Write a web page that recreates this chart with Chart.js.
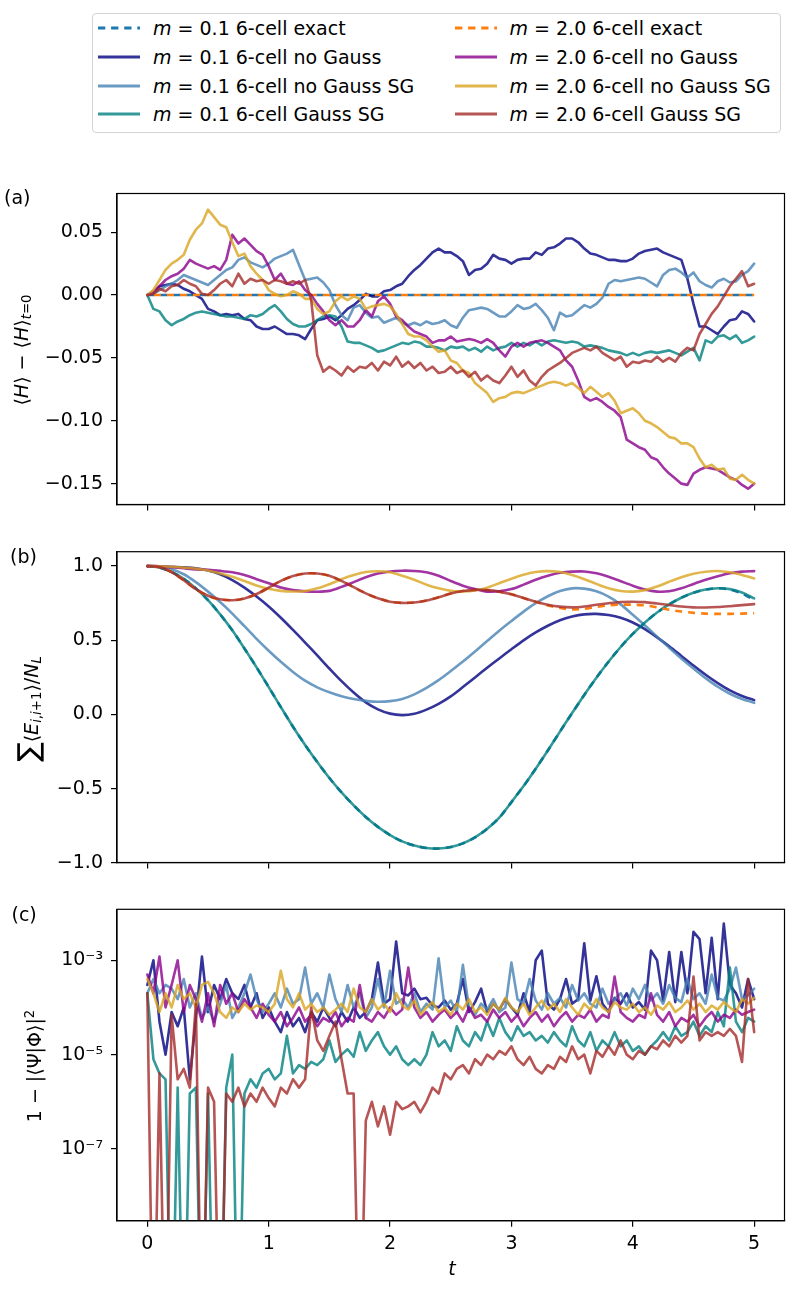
<!DOCTYPE html>
<html>
<head>
<meta charset="utf-8">
<script src="https://cdn.jsdelivr.net/npm/chart.js@4.4.1/dist/chart.umd.min.js"></script>
<style>
body { margin: 0; background: #fff; font-family: 'DejaVu Sans', sans-serif; }
#page { position: relative; width: 789px; height: 1291px; overflow: hidden; background: #fff; }
canvas { position: absolute; left: 0; }
.txt { position: absolute; font-size: 19px; color: #000; white-space: nowrap; line-height: 1; z-index: 2; }
.ylab { transform: translate(-50%, -50%) rotate(-90deg); }
.txt sub { font-size: 0.7em; vertical-align: -0.3em; line-height: 0; }
.txt sup { font-size: 0.7em; vertical-align: 0.5em; line-height: 0; }
#legend { position: absolute; left: 91.5px; top: 13px; width: 689px; height: 120px; border: 1px solid #d4d4d4; border-radius: 4px; box-sizing: border-box; z-index: 1; }
.item { position: absolute; height: 20px; font-size: 19px; line-height: 20px; white-space: nowrap; z-index: 2; }
.item svg { position: absolute; left: 0; top: 0; }
.item span { position: absolute; left: 55px; top: 0; }
</style>
</head>
<body>
<div id="page">
  <div id="legend"></div>
  <div id="legendItems"></div>

  <canvas id="chartA"></canvas>
  <canvas id="chartB"></canvas>
  <canvas id="chartC"></canvas>

  <div class="txt" style="left:4px;top:188px">(a)</div>
  <div class="txt" style="left:10px;top:547px">(b)</div>
  <div class="txt" style="left:11.5px;top:905px">(c)</div>

  <div class="txt ylab" style="left:20.5px;top:350px">⟨<i>H</i>⟩ − ⟨<i>H</i>⟩<sub><i>t</i>=0</sub></div>
  <div class="txt ylab" style="left:28px;top:709px"><span style="font-size:29px">∑</span>⟨<i>E</i><sub><i>i</i>,<i>i</i>+1</sub>⟩/<i>N</i><sub><i>L</i></sub></div>
  <div class="txt ylab" style="left:34px;top:1066px">1 − |⟨Ψ|Φ⟩|<sup>2</sup></div>
  <div class="txt" style="left:452px;top:1268px;transform:translate(-50%,-50%)"><i>t</i></div>
</div>

<script>
// time grids
const T_FINE = [0,0.05,0.1,0.15,0.2,0.25,0.3,0.35,0.4,0.45,0.5,0.55,0.6,0.65,0.7,0.75,0.8,0.85,0.9,0.95,
  1,1.05,1.1,1.15,1.2,1.25,1.3,1.35,1.4,1.45,1.5,1.55,1.6,1.65,1.7,1.75,1.8,1.85,1.9,1.95,
  2,2.05,2.1,2.15,2.2,2.25,2.3,2.35,2.4,2.45,2.5,2.55,2.6,2.65,2.7,2.75,2.8,2.85,2.9,2.95,
  3,3.05,3.1,3.15,3.2,3.25,3.3,3.35,3.4,3.45,3.5,3.55,3.6,3.65,3.7,3.75,3.8,3.85,3.9,3.95,
  4,4.05,4.1,4.15,4.2,4.25,4.3,4.35,4.4,4.45,4.5,4.55,4.6,4.65,4.7,4.75,4.8,4.85,4.9,4.95,5];
const T_COARSE = [0,0.1,0.2,0.3,0.4,0.5,0.6,0.7,0.8,0.9,1,1.1,1.2,1.3,1.4,1.5,1.6,1.7,1.8,1.9,
  2,2.1,2.2,2.3,2.4,2.5,2.6,2.7,2.8,2.9,3,3.1,3.2,3.3,3.4,3.5,3.6,3.7,3.8,3.9,
  4,4.1,4.2,4.3,4.4,4.5,4.6,4.7,4.8,4.9,5];
const T_ENDS = [0, 5];

const X_TICKS = [0, 1, 2, 3, 4, 5];
const A_TICKS = [-0.15, -0.10, -0.05, 0, 0.05];
const B_TICKS = [-1, -0.5, 0, 0.5, 1];
const C_TICKS = [1e-7, 1e-5, 1e-3];
const C_LABELS = {'-3': '10⁻³', '-5': '10⁻⁵', '-7': '10⁻⁷'};

// panel (a): <H> - <H>_{t=0}
const energyExact01 = [0, 0];
const energyExact20 = [0, 0];
const energyNoGauss01 = [0,0.001,0.007,0.008,0.009,0.008,0.005,0.003,0.000,-0.003,
  -0.011,-0.013,-0.016,-0.015,-0.016,-0.015,-0.019,-0.020,-0.025,-0.027,
  -0.027,-0.025,-0.028,-0.031,-0.031,-0.032,-0.035,-0.027,-0.020,-0.019,
  -0.017,-0.020,-0.016,-0.011,-0.008,-0.004,0.001,-0.001,-0.001,0.003,
  0.004,0.007,0.009,0.015,0.020,0.024,0.029,0.034,0.037,0.034,
  0.034,0.031,0.027,0.016,0.020,0.021,0.025,0.032,0.029,0.028,
  0.025,0.028,0.029,0.029,0.034,0.032,0.037,0.038,0.041,0.045,
  0.045,0.042,0.037,0.033,0.032,0.030,0.028,0.028,0.027,0.027,
  0.029,0.033,0.035,0.036,0.037,0.034,0.032,0.030,0.028,0.013,
  -0.007,-0.025,-0.025,-0.028,-0.031,-0.025,-0.020,-0.019,-0.013,-0.015,-0.021];
const energyNoGaussSG01 = [0,0.001,0.004,0.007,0.009,0.012,0.016,0.014,0.012,0.010,
  0.008,0.012,0.016,0.020,0.022,0.028,0.030,0.026,0.024,0.022,
  0.025,0.029,0.031,0.033,0.036,0.024,0.012,0.013,0.014,0.010,
  0.004,-0.008,-0.016,-0.020,-0.010,-0.008,-0.014,-0.018,-0.017,-0.022,
  -0.020,-0.018,-0.022,-0.024,-0.022,-0.024,-0.021,-0.023,-0.022,-0.020,
  -0.024,-0.026,-0.018,-0.012,-0.011,-0.010,-0.011,-0.014,-0.017,-0.017,
  -0.013,-0.008,-0.011,-0.010,-0.007,-0.012,-0.018,-0.028,-0.014,-0.017,
  -0.016,-0.012,-0.008,-0.010,-0.007,-0.002,0.009,0.012,0.011,0.012,
  0.013,0.014,0.013,0.010,0.007,0.016,0.020,0.021,0.018,0.014,
  0.018,0.011,0.008,0.006,0.011,0.013,0.010,0.011,0.016,0.019,0.025];
const energyGaussSG01 = [0,-0.011,-0.013,-0.020,-0.024,-0.021,-0.019,-0.016,-0.014,-0.013,
  -0.014,-0.015,-0.016,-0.017,-0.017,-0.018,-0.019,-0.016,-0.017,-0.015,
  -0.011,-0.008,-0.013,-0.019,-0.023,-0.025,-0.025,-0.023,-0.020,-0.017,
  -0.016,-0.017,-0.025,-0.037,-0.038,-0.038,-0.040,-0.042,-0.045,-0.044,
  -0.042,-0.040,-0.038,-0.039,-0.037,-0.038,-0.041,-0.041,-0.042,-0.044,
  -0.041,-0.042,-0.041,-0.044,-0.042,-0.045,-0.041,-0.044,-0.042,-0.041,
  -0.038,-0.041,-0.038,-0.040,-0.037,-0.040,-0.037,-0.036,-0.037,-0.038,
  -0.037,-0.038,-0.041,-0.040,-0.041,-0.042,-0.044,-0.045,-0.046,-0.048,
  -0.046,-0.048,-0.046,-0.045,-0.046,-0.045,-0.044,-0.046,-0.048,-0.045,
  -0.042,-0.052,-0.036,-0.038,-0.033,-0.032,-0.035,-0.032,-0.038,-0.036,-0.033];
const energyNoGauss20 = [0,0.003,0.007,0.012,0.015,0.017,0.021,0.028,0.025,0.023,
  0.021,0.023,0.020,0.028,0.048,0.041,0.045,0.040,0.035,0.032,
  0.023,0.012,0.017,0.009,0.008,0.011,0.004,0.000,-0.007,-0.013,
  -0.020,-0.024,-0.020,-0.025,-0.025,-0.020,-0.012,-0.017,-0.005,-0.001,
  -0.007,-0.017,-0.020,-0.025,-0.029,-0.031,-0.033,-0.038,-0.036,-0.036,
  -0.033,-0.037,-0.036,-0.035,-0.036,-0.038,-0.035,-0.038,-0.044,-0.049,
  -0.041,-0.038,-0.041,-0.038,-0.037,-0.036,-0.038,-0.041,-0.044,-0.052,
  -0.057,-0.068,-0.081,-0.084,-0.082,-0.085,-0.089,-0.092,-0.097,-0.115,
  -0.118,-0.121,-0.123,-0.129,-0.131,-0.137,-0.142,-0.146,-0.150,-0.151,
  -0.142,-0.139,-0.137,-0.138,-0.139,-0.142,-0.145,-0.147,-0.151,-0.154,-0.150];
const energyNoGaussSG20 = [0,0.004,0.012,0.020,0.025,0.028,0.032,0.044,0.052,0.057,
  0.068,0.062,0.056,0.054,0.042,0.031,0.033,0.023,0.017,0.012,
  0.004,0.001,-0.001,0.000,0.003,0.001,-0.003,-0.003,-0.011,-0.015,
  -0.013,-0.005,-0.001,-0.004,-0.001,-0.003,-0.011,-0.009,-0.008,-0.007,
  -0.009,-0.015,-0.023,-0.031,-0.033,-0.033,-0.036,-0.041,-0.045,-0.044,
  -0.052,-0.054,-0.060,-0.062,-0.070,-0.074,-0.078,-0.085,-0.082,-0.081,
  -0.078,-0.077,-0.078,-0.076,-0.074,-0.072,-0.070,-0.069,-0.070,-0.072,
  -0.070,-0.074,-0.078,-0.073,-0.077,-0.081,-0.078,-0.084,-0.094,-0.092,
  -0.090,-0.094,-0.100,-0.102,-0.105,-0.109,-0.113,-0.114,-0.118,-0.118,
  -0.121,-0.130,-0.137,-0.135,-0.139,-0.138,-0.146,-0.147,-0.143,-0.147,-0.150];
const energyGaussSG20 = [0,0.001,0.005,0.003,0.007,0.008,0.012,0.009,0.007,0.001,
  0.000,0.004,0.009,0.012,0.007,0.017,0.009,0.013,0.011,0.012,
  0.009,0.012,0.011,0.009,0.011,0.009,0.012,-0.004,-0.048,-0.061,
  -0.057,-0.060,-0.064,-0.057,-0.061,-0.057,-0.058,-0.054,-0.060,-0.053,
  -0.056,-0.049,-0.057,-0.053,-0.058,-0.054,-0.060,-0.057,-0.062,-0.061,
  -0.057,-0.062,-0.060,-0.065,-0.061,-0.068,-0.064,-0.068,-0.070,-0.064,
  -0.057,-0.065,-0.060,-0.068,-0.072,-0.065,-0.060,-0.057,-0.054,-0.050,
  -0.046,-0.044,-0.042,-0.044,-0.041,-0.046,-0.049,-0.052,-0.049,-0.057,
  -0.053,-0.054,-0.052,-0.053,-0.049,-0.053,-0.050,-0.053,-0.046,-0.042,
  -0.044,-0.031,-0.023,-0.015,-0.009,-0.001,0.007,0.013,0.019,0.007,0.009];

// panel (b): sum <E_{i,i+1}> / N_L
const sumExact01 = [1.000,0.990,0.960,0.915,0.850,0.770,0.675,0.568,0.445,0.318,
  0.185,0.050,-0.082,-0.205,-0.320,-0.428,-0.525,-0.612,-0.690,-0.757,
  -0.812,-0.855,-0.883,-0.899,-0.903,-0.893,-0.868,-0.828,-0.770,-0.695,
  -0.590,-0.482,-0.365,-0.242,-0.115,0.010,0.132,0.248,0.356,0.455,
  0.543,0.620,0.687,0.742,0.787,0.820,0.842,0.851,0.842,0.815,0.770];
const sumNoGauss01 = [1.000,0.999,0.996,0.992,0.985,0.970,0.945,0.906,0.855,0.795,
  0.728,0.652,0.570,0.485,0.398,0.310,0.225,0.148,0.082,0.035,
  0.006,-0.004,0.005,0.033,0.072,0.122,0.185,0.250,0.315,0.378,
  0.440,0.500,0.553,0.598,0.635,0.660,0.675,0.678,0.670,0.652,
  0.620,0.575,0.520,0.460,0.395,0.330,0.268,0.212,0.163,0.125,0.097];
const sumNoGaussSG01 = [1.000,0.995,0.978,0.945,0.892,0.828,0.758,0.680,0.595,0.510,
  0.430,0.355,0.287,0.228,0.183,0.150,0.123,0.104,0.092,0.086,
  0.090,0.105,0.136,0.180,0.232,0.293,0.357,0.425,0.495,0.565,
  0.630,0.693,0.750,0.797,0.832,0.850,0.848,0.830,0.795,0.742,
  0.672,0.600,0.525,0.450,0.378,0.310,0.245,0.187,0.140,0.105,0.079];
const sumGaussSG01 = [1.000,0.990,0.960,0.915,0.850,0.770,0.675,0.568,0.445,0.318,
  0.185,0.050,-0.082,-0.205,-0.320,-0.428,-0.525,-0.612,-0.690,-0.757,
  -0.812,-0.855,-0.883,-0.899,-0.903,-0.893,-0.868,-0.828,-0.770,-0.695,
  -0.590,-0.482,-0.365,-0.242,-0.115,0.010,0.132,0.248,0.356,0.455,
  0.543,0.620,0.687,0.742,0.787,0.820,0.842,0.851,0.845,0.822,0.782];
const sumExact20 = [1.000,0.993,0.960,0.905,0.845,0.800,0.776,0.770,0.782,0.812,
  0.855,0.900,0.933,0.950,0.950,0.935,0.900,0.858,0.816,0.783,
  0.760,0.752,0.755,0.768,0.790,0.815,0.832,0.840,0.838,0.828,
  0.810,0.785,0.760,0.735,0.718,0.708,0.712,0.725,0.735,0.740,
  0.740,0.735,0.722,0.706,0.694,0.685,0.680,0.678,0.678,0.680,0.683];
const sumNoGauss20 = [1.000,0.998,0.992,0.985,0.978,0.975,0.968,0.958,0.940,0.912,
  0.884,0.855,0.838,0.830,0.827,0.833,0.860,0.892,0.925,0.950,
  0.964,0.969,0.967,0.958,0.935,0.900,0.868,0.845,0.828,0.830,
  0.845,0.875,0.908,0.935,0.955,0.963,0.964,0.952,0.928,0.898,
  0.868,0.842,0.828,0.830,0.850,0.880,0.908,0.932,0.952,0.963,0.966];
const sumNoGaussSG20 = [1.000,0.999,0.996,0.990,0.983,0.970,0.950,0.928,0.900,0.870,
  0.847,0.833,0.829,0.832,0.850,0.878,0.912,0.940,0.960,0.965,
  0.958,0.935,0.908,0.875,0.850,0.833,0.829,0.835,0.855,0.885,
  0.915,0.942,0.960,0.966,0.960,0.940,0.912,0.880,0.850,0.832,
  0.828,0.838,0.862,0.895,0.925,0.948,0.962,0.967,0.958,0.940,0.917];
const sumGaussSG20 = [1.000,0.993,0.960,0.905,0.845,0.800,0.776,0.770,0.782,0.812,
  0.855,0.900,0.933,0.950,0.950,0.935,0.900,0.858,0.816,0.783,
  0.760,0.752,0.755,0.768,0.790,0.815,0.832,0.840,0.838,0.828,
  0.810,0.785,0.760,0.740,0.727,0.722,0.728,0.740,0.750,0.758,
  0.760,0.757,0.748,0.738,0.728,0.722,0.721,0.724,0.730,0.737,0.744];

// panel (c): 1 - |<Psi|Phi>|^2 (1e-12 = fell off the bottom of the plot)
const fidNoGauss01 = [3e-4,1e-3,5e-5,1e-5,8e-5,4e-5,1e-4,3e-6,6e-5,1.2e-3,
  8e-5,3e-4,1.5e-4,4e-4,2e-4,1.5e-4,3e-4,1e-4,2e-4,6e-5,
  1e-4,5e-5,3e-5,8e-5,4e-5,6e-5,3e-5,8e-5,5e-5,1e-4,
  6e-5,4e-5,8e-5,5e-5,1e-4,6e-5,8e-5,1.5e-4,9e-4,1.2e-4,
  1.5e-4,2.5e-3,2e-4,1.8e-4,2.5e-4,1.5e-4,1.6e-4,1.1e-4,1e-4,1.4e-4,
  9e-5,1.2e-4,4e-4,8e-5,1.3e-4,2.5e-4,8e-5,1.2e-4,9e-5,1.5e-4,
  1e-4,7e-5,2e-4,8e-5,1e-3,1.6e-3,1.2e-4,9e-5,1.5e-4,4e-4,
  1.2e-4,1.5e-4,2.3e-3,1.4e-4,4.6e-4,1.2e-4,8e-5,1.6e-4,1.2e-4,2e-4,
  1e-4,1.3e-4,9e-5,1.6e-3,1e-3,1.4e-4,1.5e-3,1.3e-4,1.5e-3,2e-4,
  4e-3,2.8e-3,2e-4,3e-3,1.5e-4,6e-3,3e-4,2e-4,1e-4,4e-4,1.5e-4];
const fidNoGaussSG01 = [2e-4,4e-4,2e-4,3e-4,2.5e-4,1.5e-4,4e-4,1e-4,2e-4,6e-5,
  1e-4,5e-5,1.2e-4,3e-4,6e-5,1e-4,2e-4,5e-4,1.5e-4,8e-5,
  1.2e-4,2e-4,1e-4,2.5e-4,1.2e-4,1.5e-4,7e-4,1.2e-4,2e-4,1e-4,
  5e-4,1.5e-4,8e-5,3e-4,1e-4,2e-4,6e-5,1e-4,4e-4,1e-4,
  6e-4,1.2e-4,1.5e-4,1e-4,2e-4,8e-5,1.2e-4,9e-5,1.1e-3,1e-4,
  1.4e-4,8e-5,8e-4,1e-4,7e-5,1.2e-4,9e-5,1.5e-4,8e-5,1e-4,
  9e-4,1.5e-4,1.2e-4,4e-4,1.4e-4,9e-5,2e-4,1.2e-4,1.6e-4,1e-4,
  3e-4,1.4e-4,2e-4,1.2e-4,1e-4,2.5e-4,1.2e-4,1.5e-4,2e-4,1.1e-4,
  2.5e-4,1.5e-4,3e-4,1.4e-4,2e-4,1.2e-4,3e-4,1.6e-4,1.3e-4,4e-4,
  1.5e-4,2e-4,1.2e-4,5e-4,1.6e-4,1.4e-4,2.5e-4,7e-4,1.5e-4,1.8e-4,2.5e-4];
const fidGaussSG01 = [2e-4,8e-6,4e-6,3e-6,1e-12,2e-6,1e-12,1.5e-6,2e-6,1e-12,
  1.5e-6,1e-12,1e-12,2e-6,1e-5,1e-12,1.5e-6,3e-6,2e-6,4e-6,
  5e-6,3e-6,4e-6,2.5e-5,4e-6,6e-6,5e-6,7e-6,6e-6,8e-6,
  2e-5,7e-6,1e-5,1.3e-5,9e-6,3e-5,1.2e-5,2e-5,3e-5,1.5e-5,
  1e-5,1.5e-5,8e-6,6e-6,8e-6,6e-6,1e-5,3e-5,1.5e-5,2e-5,
  1.2e-5,4e-5,2e-5,1.5e-5,3e-5,2e-5,5e-5,2.5e-5,6e-5,3e-5,
  2e-5,4e-5,2.5e-5,3e-5,2e-5,2.5e-5,1.8e-5,3e-5,2e-5,1.5e-5,
  4e-5,2e-5,1.5e-5,3e-5,1.2e-5,2e-5,1.5e-5,3e-5,1.5e-5,2e-5,
  1.2e-5,1.5e-5,1e-5,1.5e-5,2e-5,3e-5,2e-5,4e-5,2.5e-5,3e-5,
  5e-5,2.5e-5,4e-5,3e-5,8e-5,4e-5,7e-4,5e-5,3e-5,6e-5,5e-5];
const fidNoGauss20 = [5e-4,2e-4,1.2e-3,1e-4,3e-4,1e-3,8e-5,3e-4,1.5e-4,5e-5,
  2e-4,4e-5,3e-4,1.2e-4,2e-4,8e-5,1.5e-4,1e-4,6e-5,1.2e-4,
  7e-5,5e-5,8e-5,4e-5,6e-5,1e-4,5e-5,7e-5,4e-5,6e-5,
  5e-5,8e-5,4e-5,6e-5,5e-5,3e-4,6e-5,5e-5,8e-5,6e-5,
  1e-4,7e-5,9e-5,7e-4,1e-4,6e-5,8e-5,5e-5,7e-5,9e-5,
  6e-5,8e-5,5e-5,1e-4,6e-5,7e-5,5e-5,9e-5,6e-5,8e-5,
  5e-5,7e-5,4e-5,6e-5,8e-5,5e-5,7e-5,4e-5,6e-5,8e-5,
  5e-5,7e-5,6e-5,9e-5,5e-5,7e-5,6e-5,4.5e-4,8e-5,6e-5,
  5e-5,7e-5,6e-5,2e-4,7e-5,5e-5,8e-5,4e-5,6e-5,5e-5,
  7e-5,4e-5,6e-5,8e-5,5e-5,7e-5,6e-5,9e-5,7e-5,8e-5,9e-5];
const fidNoGaussSG20 = [4e-4,2e-4,8e-5,2e-4,1e-4,3e-4,1.5e-4,2e-4,1e-4,3e-4,
  3.5e-4,2e-4,8e-5,6e-5,1e-4,8e-5,1.2e-4,9e-5,1.1e-4,1e-4,
  8e-5,1.2e-4,6e-4,1.5e-4,1e-4,2e-4,9e-5,1.2e-4,8e-5,1e-4,
  7e-5,9e-5,1.2e-4,8e-5,2.5e-4,1e-4,8e-5,1.5e-4,9e-5,1.2e-4,
  8e-5,2e-4,1.1e-4,9e-5,1.4e-4,7e-5,1e-4,1.3e-4,8e-5,1e-4,
  7e-5,1.2e-4,9e-5,1.5e-4,8e-5,1e-4,7e-5,1.2e-4,9e-5,1.6e-4,
  1e-4,8e-5,1.2e-4,7e-5,1e-4,1.4e-4,9e-5,1.2e-4,8e-5,1.5e-4,
  1e-4,7e-5,1.2e-4,9e-5,1.5e-4,1e-4,8e-5,1.3e-4,1e-4,9e-5,
  1.2e-4,8e-5,1e-4,7e-5,1.1e-4,9e-5,1.3e-4,8e-5,1e-4,1.4e-4,
  9e-5,1.2e-4,8e-5,1.1e-4,9e-5,1.3e-4,1e-4,8e-5,1.5e-4,1.2e-4,1.6e-4];
const fidGaussSG20 = [2e-4,1e-12,4e-6,1e-12,7e-5,3e-6,5e-6,2e-6,1.2e-4,1e-12,
  2e-6,1e-6,1e-12,1.5e-6,1e-6,2e-6,8e-7,1.5e-6,1e-6,2e-6,
  1.2e-6,8e-7,2e-6,1.5e-6,3e-6,2e-6,3e-6,1e-4,2e-5,1.2e-5,
  2.5e-5,5e-5,8e-6,1.5e-6,1.5e-6,1e-12,4e-7,1e-6,3e-7,8e-7,
  2e-7,1e-6,7e-7,8e-7,1e-6,6e-7,1e-6,2e-6,1.5e-6,4e-6,
  3e-6,5e-6,6e-6,4e-6,8e-6,6e-6,1e-5,8e-6,1.2e-5,1e-5,
  1.5e-5,8e-6,6e-6,9e-6,5e-6,4e-6,6e-6,5e-6,9e-6,7e-6,
  1.5e-5,8e-6,1e-5,4e-6,1.2e-5,9e-6,1.5e-5,1e-5,2e-5,1e-5,
  8e-6,1.2e-5,1e-5,1.5e-5,1.3e-5,2e-5,1.5e-5,2.5e-5,1.8e-5,2.5e-5,
  4.5e-4,2e-5,3e-5,2.5e-5,3e-5,2.5e-5,3.5e-5,2.5e-5,7e-6,4e-4,3e-5];

const FONT = "'DejaVu Sans', sans-serif";

const STYLE = {
  exact01:   { color: '#1f77b4', dash: [7, 6] },
  noG01:     { color: 'rgba(0,0,128,0.8)' },
  noGSG01:   { color: 'rgba(70,130,180,0.8)' },
  gSG01:     { color: 'rgba(0,128,128,0.8)' },
  exact20:   { color: '#ff7f0e', dash: [7, 6], offset: 6.5 },
  noG20:     { color: 'rgba(139,0,139,0.8)' },
  noGSG20:   { color: 'rgba(218,165,32,0.8)' },
  gSG20:     { color: 'rgba(165,42,42,0.8)' }
};

// legend, column-major like matplotlib ncol=2
const LEGEND = [
  ['exact01', '<i>m</i> = 0.1 6-cell exact'],
  ['noG01', '<i>m</i> = 0.1 6-cell no Gauss'],
  ['noGSG01', '<i>m</i> = 0.1 6-cell no Gauss SG'],
  ['gSG01', '<i>m</i> = 0.1 6-cell Gauss SG'],
  ['exact20', '<i>m</i> = 2.0 6-cell exact'],
  ['noG20', '<i>m</i> = 2.0 6-cell no Gauss'],
  ['noGSG20', '<i>m</i> = 2.0 6-cell no Gauss SG'],
  ['gSG20', '<i>m</i> = 2.0 6-cell Gauss SG']
];
const LEG_ROWS = [28.3, 57.3, 86, 114.3];
const LEG_COLS = [98, 454.5];

let html = '';
LEGEND.forEach(function (e, i) {
  const s = STYLE[e[0]];
  const col = LEG_COLS[Math.floor(i / 4)], row = LEG_ROWS[i % 4];
  const dash = s.dash ? ' stroke-dasharray="7.3,5.8"' : '';
  html += '<div class="item" style="left:' + col + 'px;top:' + (row - 10) + 'px">' +
    '<svg width="42" height="20"><line x1="0" y1="10" x2="42" y2="10" stroke="' + s.color +
    '" stroke-width="3"' + dash + '/></svg><span>' + e[1] + '</span></div>';
});
document.getElementById('legendItems').innerHTML = html;

function series(ts, ys, key, idx, smooth) {
  const s = STYLE[key];
  return {
    data: ts.map(function (t, i) { return { x: t, y: ys[i] }; }),
    borderColor: s.color,
    borderWidth: 2.6,
    borderDash: s.dash || [],
    borderDashOffset: s.offset || 0,
    borderJoinStyle: 'round',
    borderCapStyle: s.dash ? 'butt' : 'round',
    pointRadius: 0,
    fill: false,
    tension: smooth ? 0.3 : 0,
    order: 20 - idx
  };
}

function fmt(v, d) {
  return (v < 0 ? '−' : '') + Math.abs(v).toFixed(d);
}

const frame = {
  id: 'frame',
  afterDatasetsDraw: function (chart) {
    const a = chart.chartArea, ctx = chart.ctx;
    ctx.save();
    ctx.strokeStyle = '#000';
    ctx.lineWidth = 1.2;
    ctx.strokeRect(a.left, a.top, a.right - a.left, a.bottom - a.top);
    ctx.restore();
  }
};

function xAxis(height, showLabels) {
  return {
    type: 'linear', min: -0.25, max: 5.25,
    afterBuildTicks: function (s) { s.ticks = X_TICKS.map(function (v) { return { value: v }; }); },
    ticks: { autoSkip: false, maxRotation: 0, padding: 6, color: '#000', font: { family: FONT, size: 19 },
      callback: function (v) { return showLabels ? String(v) : ''; } },
    grid: { drawOnChartArea: false, drawTicks: true, tickLength: 6, color: '#000', lineWidth: 1.2 },
    border: { display: true, color: '#000', width: 1.2 },
    afterFit: function (s) { s.height = height; s.paddingLeft = 0; s.paddingRight = 0; }
  };
}

function yAxis(type, min, max, ticks, label) {
  return {
    type: type, min: min, max: max,
    afterBuildTicks: function (s) { s.ticks = ticks.map(function (v) { return { value: v }; }); },
    ticks: { autoSkip: false, padding: 8, color: '#000', font: { family: FONT, size: 19 }, callback: label },
    grid: { drawOnChartArea: false, drawTicks: true, tickLength: 6, color: '#000', lineWidth: 1.2 },
    border: { display: true, color: '#000', width: 1.2 },
    afterFit: function (s) { s.width = 117; s.paddingTop = 0; s.paddingBottom = 0; }
  };
}

function panel(id, top, height, padTop, xHeight, showX, datasets, y) {
  const cv = document.getElementById(id);
  cv.style.top = top + 'px';
  cv.width = 789;
  cv.height = height;
  new Chart(cv, {
    type: 'line',
    data: { datasets: datasets },
    options: {
      responsive: false, animation: false, events: [],
      layout: { padding: { top: padTop, right: 4.5, left: 0, bottom: 0 } },
      plugins: { legend: { display: false }, tooltip: { enabled: false } },
      scales: { x: xAxis(xHeight, showX), y: y }
    },
    plugins: [frame]
  });
}

panel('chartA', 184, 340, 9.5, 19.5, false, [
  series(T_ENDS, energyExact01, 'exact01', 0),
  series(T_FINE, energyNoGauss01, 'noG01', 1),
  series(T_FINE, energyNoGaussSG01, 'noGSG01', 2),
  series(T_FINE, energyGaussSG01, 'gSG01', 3),
  series(T_ENDS, energyExact20, 'exact20', 4),
  series(T_FINE, energyNoGauss20, 'noG20', 5),
  series(T_FINE, energyNoGaussSG20, 'noGSG20', 6),
  series(T_FINE, energyGaussSG20, 'gSG20', 7)
], yAxis('linear', -0.1666, 0.0808, A_TICKS, function (v) { return fmt(v, 2); }));

panel('chartB', 542, 340, 9.7, 19.5, false, [
  series(T_COARSE, sumExact01, 'exact01', 0, true),
  series(T_COARSE, sumNoGauss01, 'noG01', 1, true),
  series(T_COARSE, sumNoGaussSG01, 'noGSG01', 2, true),
  series(T_COARSE, sumGaussSG01, 'gSG01', 3, true),
  series(T_COARSE, sumExact20, 'exact20', 4, true),
  series(T_COARSE, sumNoGauss20, 'noG20', 5, true),
  series(T_COARSE, sumNoGaussSG20, 'noGSG20', 6, true),
  series(T_COARSE, sumGaussSG20, 'gSG20', 7, true)
], yAxis('linear', -0.997, 1.097, B_TICKS, function (v) { return fmt(v, 1); }));

panel('chartC', 899, 392, 10.3, 70.3, true, [
  series(T_FINE, fidNoGauss01, 'noG01', 1),
  series(T_FINE, fidNoGaussSG01, 'noGSG01', 2),
  series(T_FINE, fidGaussSG01, 'gSG01', 3),
  series(T_FINE, fidNoGauss20, 'noG20', 5),
  series(T_FINE, fidNoGaussSG20, 'noGSG20', 6),
  series(T_FINE, fidGaussSG20, 'gSG20', 7)
], yAxis('logarithmic', 3.02e-9, 1.205e-2, C_TICKS, function (v) {
  return C_LABELS[String(Math.round(Math.log10(v)))] || '';
}));
</script>
</body>
</html>
